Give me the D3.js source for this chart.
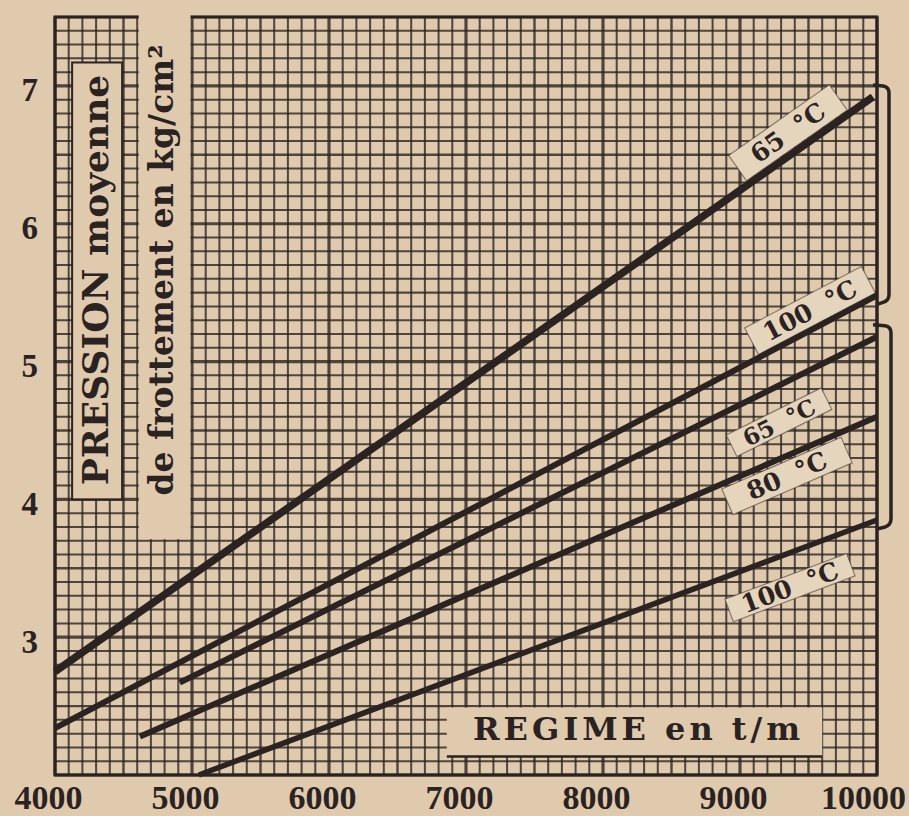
<!DOCTYPE html>
<html>
<head>
<meta charset="utf-8">
<script src="https://cdn.jsdelivr.net/npm/d3@7"></script>
<style>
  body { margin: 0; background: #dfcaae; }
  svg { display: block; }
</style>
</head>
<body>
<div id="chart"></div>
<script>
// Data
const xTicks = [4000, 5000, 6000, 7000, 8000, 9000, 10000];
const yTicks = [3, 4, 5, 6, 7];

// five straight curves: temperature, bracket group, start point, end point
const seriesTemp  = ["65", "100", "65", "80", "100"];
const seriesGroup = [0, 0, 1, 1, 1];
const seriesStart = [[4000, 2.75], [4000, 2.34], [4910, 2.67], [4620, 2.28], [5050, 2.0]];
const seriesEnd   = [[9970, 6.92], [10000, 5.48], [10000, 5.18], [10000, 4.60], [10000, 3.85]];

// Layout
const W = 909, H = 816;
const paper = "#dfcaae", ink = "#2b2321";
const labelPos   = [[9350, 6.66], [9511, 5.37], [9285, 4.56], [9343, 4.17], [9365, 3.36]];
const labelSize  = [[123, 31], [132, 30], [106, 24], [130, 28], [130, 24]];
const lineWidth  = [7.5, 6, 6, 6, 5.5];

const x = d3.scaleLinear().domain([4000, 10000]).range([55, 877]);
const y = d3.scaleLinear().domain([2, 7.5]).range([775, 17]);

const svg = d3.select("#chart").append("svg")
  .attr("width", W).attr("height", H);

svg.append("rect").attr("width", W).attr("height", H).attr("fill", paper);

///////////////////////////////////////////////////////////////////////////////
// Graph paper grid
const gridX = d3.range(4000, 10001, 100);
const gridY = d3.range(20, 76).map(d => d / 10);

function weight(major, medium) { return major ? 3.2 : medium ? 2.4 : 2.0; }

const grid = svg.append("g");
grid.selectAll(".gx").data(gridX).enter().append("line")
  .attr("x1", d => x(d)).attr("x2", d => x(d))
  .attr("y1", y(7.5)).attr("y2", y(2))
  .attr("stroke", ink).attr("stroke-opacity", 0.8)
  .attr("stroke-width", d => weight(d % 1000 === 0, d % 500 === 0));
grid.selectAll(".gy").data(gridY).enter().append("line")
  .attr("y1", d => y(d)).attr("y2", d => y(d))
  .attr("x1", x(4000)).attr("x2", x(10000))
  .attr("stroke", ink).attr("stroke-opacity", 0.8)
  .attr("stroke-width", d => weight(Math.abs(d - Math.round(d)) < 1e-6,
                                    Math.abs(d * 2 - Math.round(d * 2)) < 1e-6));

svg.append("rect")
  .attr("x", x(4000)).attr("y", y(7.5))
  .attr("width", x(10000) - x(4000)).attr("height", y(2) - y(7.5))
  .attr("fill", "none").attr("stroke", ink).attr("stroke-width", 3);

// blank band for the second title line
svg.append("rect")
  .attr("x", x(4600) + 1.5).attr("y", 0)
  .attr("width", x(5000) - x(4600) - 3).attr("height", y(3.7) - 1.5)
  .attr("fill", paper);

// box for the first title line
svg.append("rect")
  .attr("x", x(4125)).attr("y", y(7.17))
  .attr("width", x(4490) - x(4125)).attr("height", y(4.0) - y(7.17))
  .attr("fill", paper).attr("stroke", ink).attr("stroke-width", 2);

// box for the x title
svg.append("rect")
  .attr("x", x(6860)).attr("y", y(2.49))
  .attr("width", x(9600) - x(6860)).attr("height", y(2.135) - y(2.49))
  .attr("fill", paper);
svg.append("line")
  .attr("x1", x(6860)).attr("x2", x(9600))
  .attr("y1", y(2.135)).attr("y2", y(2.135))
  .attr("stroke", ink).attr("stroke-width", 2.5);

///////////////////////////////////////////////////////////////////////////////
// Titles
svg.append("text")
  .attr("transform", `translate(108, 280) rotate(-90)`)
  .attr("text-anchor", "middle")
  .attr("font-family", "DejaVu Serif").attr("font-weight", "bold")
  .attr("font-size", 36).attr("fill", ink)
  .text("PRESSION moyenne");

svg.append("text")
  .attr("transform", `translate(173, 270) rotate(-90)`)
  .attr("text-anchor", "middle")
  .attr("font-family", "DejaVu Serif").attr("font-weight", "bold")
  .attr("font-size", 33).attr("fill", ink)
  .text("de frottement en kg/cm²");

svg.append("text")
  .attr("x", 473).attr("y", 740)
  .attr("textLength", 327).attr("lengthAdjust", "spacing")
  .attr("font-family", "DejaVu Serif").attr("font-weight", "bold")
  .attr("font-size", 32).attr("fill", ink)
  .text("REGIME en t/m");

///////////////////////////////////////////////////////////////////////////////
// Axes (labels only)
const xAxis = svg.append("g")
  .attr("transform", `translate(0, ${y(2)})`)
  .call(d3.axisBottom(x).tickValues(xTicks).tickSize(0).tickPadding(10).tickFormat(d3.format("d")));
xAxis.select(".domain").remove();
xAxis.selectAll("text")
  .attr("dx", d => d === 10000 ? -14 : -7)
  .attr("font-family", "Liberation Serif").attr("font-weight", "bold")
  .attr("font-size", 34).attr("fill", ink);

const yAxis = svg.append("g")
  .attr("transform", `translate(${x(4000)}, 0)`)
  .call(d3.axisLeft(y).tickValues(yTicks).tickSize(0).tickPadding(17).tickFormat(d3.format("d")));
yAxis.select(".domain").remove();
yAxis.selectAll("text")
  .attr("dy", "0.45em")
  .attr("font-family", "Liberation Serif").attr("font-weight", "bold")
  .attr("font-size", 33).attr("fill", ink);

///////////////////////////////////////////////////////////////////////////////
// Curve labels
function angleOf(i) {
  const [x0, y0] = seriesStart[i], [x1, y1] = seriesEnd[i];
  return Math.atan2(y(y1) - y(y0), x(x1) - x(x0)) * 180 / Math.PI;
}

const labels = svg.selectAll(".lab").data(seriesTemp).enter().append("g")
  .attr("transform", (d, i) =>
    `translate(${x(labelPos[i][0])}, ${y(labelPos[i][1])}) rotate(${angleOf(i)})`);

labels.append("rect")
  .attr("x", (d, i) => -labelSize[i][0] / 2).attr("y", (d, i) => -labelSize[i][1] / 2)
  .attr("width", (d, i) => labelSize[i][0]).attr("height", (d, i) => labelSize[i][1])
  .attr("fill", "#e6d5bd").attr("stroke", ink).attr("stroke-width", 1.2).attr("stroke-opacity", 0.5);

labels.append("text")
  .attr("text-anchor", "middle").attr("dominant-baseline", "central")
  .attr("font-family", "DejaVu Serif").attr("font-weight", "bold")
  .attr("font-size", (d, i) => i === 2 ? 23 : 25).attr("fill", ink)
  .style("white-space", "pre")
  .text(d => d + "  °C");

///////////////////////////////////////////////////////////////////////////////
// Curves
svg.selectAll(".curve").data(seriesTemp).enter().append("line")
  .attr("x1", (d, i) => x(seriesStart[i][0])).attr("y1", (d, i) => y(seriesStart[i][1]))
  .attr("x2", (d, i) => x(seriesEnd[i][0])).attr("y2", (d, i) => y(seriesEnd[i][1]))
  .attr("stroke", ink).attr("stroke-width", (d, i) => lineWidth[i])
  .attr("stroke-linecap", "butt");

///////////////////////////////////////////////////////////////////////////////
// Brackets grouping the curves at the right edge
[0, 1].forEach(g => {
  const ends = seriesEnd.filter((d, i) => seriesGroup[i] === g).map(d => y(d[1]));
  const top = d3.min(ends) - 12, bottom = d3.max(ends) + 7;
  const bx = x(10000), r = 12 + g * 2;
  svg.append("path")
    .attr("d", `M${bx - 4},${top} L${bx + r - 6},${top + 1} Q${bx + r},${top + 2} ${bx + r},${top + 8}
                L${bx + r},${bottom - 8} Q${bx + r},${bottom - 2} ${bx + r - 6},${bottom} L${bx},${bottom + 2}`)
    .attr("fill", "none").attr("stroke", ink).attr("stroke-width", 3.5);
});
</script>
</body>
</html>
